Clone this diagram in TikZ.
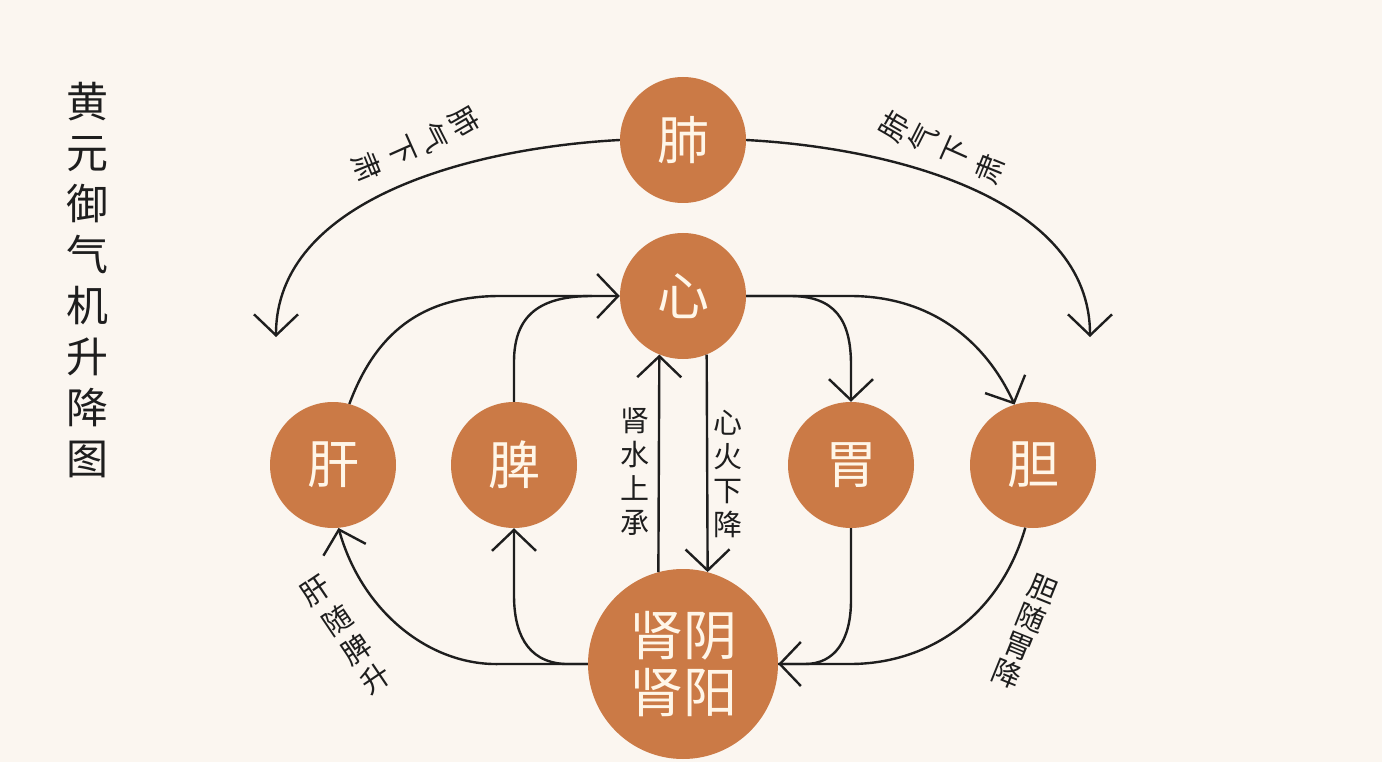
\documentclass[tikz,border=0pt]{standalone}
\usepackage{fontspec}
\newfontfamily\cjk{Noto Sans CJK SC}
\usetikzlibrary{arrows.meta}
\definecolor{bg}{HTML}{FBF6F0}
\definecolor{organ}{HTML}{CB7A46}
\definecolor{organtxt}{HTML}{FFF6E8}
\definecolor{ink}{HTML}{1E1E1E}
\begin{document}
\begin{tikzpicture}[x=1pt,y=-1pt,
  organ/.style={circle, fill=organ, minimum size=126pt, inner sep=0pt, text=organtxt,
    font=\cjk\fontsize{52}{52}\selectfont},
  flow/.style={line width=2.4pt, draw=ink},
  tip/.style={-{Straight Barb[length=21pt,width=44pt,line width=2.4pt]}},
  lbl/.style={inner sep=0pt, text=ink, font=\cjk\fontsize{29}{29}\selectfont},
  vlbl/.style={inner sep=0pt, text=ink, align=center, font=\cjk\fontsize{29}{34}\selectfont}]
\fill[bg] (0,0) rectangle (1382,762);
\useasboundingbox (0,0) rectangle (1382,762);

% title
\node[inner sep=0pt, text=ink, align=center, font=\cjk\fontsize{42}{51}\selectfont] (title) at (87,280)
  {黄\\元\\御\\气\\机\\升\\降\\图};

% organs
\node[organ] (fei) at (683,140) {肺};
\node[organ] (xin) at (683,296) {心};
\node[organ] (gan) at (333,465) {肝};
\node[organ] (pi)  at (514,465) {脾};
\node[organ] (wei) at (851,465) {胃};
\node[organ] (dan) at (1033,465) {胆};
\node[organ, minimum size=190pt, align=center, font=\cjk\fontsize{54}{57}\selectfont] (shen) at (683,664) {肾阴\\肾阳};

% free ends
\coordinate (fl) at (276,337);
\coordinate (fr) at (1090,337);
\coordinate (pjoin) at (592,296);

% lung descends
\draw[flow,tip] (fei.west) .. controls (470,148) and (276,200) .. (fl);
\draw[flow,tip] (fei.east) .. controls (896,148) and (1090,200) .. (fr);

% liver & spleen up to heart
\draw[flow,tip] (gan.75) .. controls (375,335) and (420,296) .. (500,296) -- (xin.west);
\draw[flow] (pi.north) -- (514,362) .. controls (514,315) and (540,296) .. (pjoin);

% heart down to stomach & gallbladder
\draw[flow,tip] (xin.east) -- (790,296) .. controls (835,296) and (851,320) .. (851,365) -- (wei.north);
\draw[flow,tip] (xin.east) -- (850,296) .. controls (930,296) and (985,340) .. (dan.107);

% kidney water up / heart fire down
\draw[flow,tip] (shen.105) -- (xin.248);
\draw[flow,tip] (xin.292) -- (shen.75);

% kidney to spleen & liver
\draw[flow,tip] (shen.west) -- (565,664) .. controls (525,662) and (514,630) .. (514,595) -- (pi.south);
\draw[flow,tip] (shen.west) -- (500,664) .. controls (430,666) and (362,612) .. (gan.275);

% stomach & gallbladder to kidney
\draw[flow,tip] (wei.south) -- (851,600) .. controls (851,640) and (835,664) .. (805,664) -- (shen.east);
\draw[flow] (dan.263) .. controls (1000,615) and (930,664) .. (850,664) -- (shen.east);

% labels
\node[lbl, rotate=-60] (l1a) at (464,122) {肺};
\node[lbl, rotate=-63] (l1b) at (434,137) {气};
\node[lbl, rotate=-66] (l1c) at (401,151) {下};
\node[lbl, rotate=-68] (l1d) at (367,167) {肃};

\node[lbl, rotate=60] (l2a) at (894,127) {肺};
\node[lbl, rotate=63] (l2b) at (923,139) {气};
\node[lbl, rotate=66] (l2c) at (956,152) {下};
\node[lbl, rotate=68] (l2d) at (990,169) {肃};

\node[lbl, rotate=34] (l3a) at (316,591) {肝};
\node[lbl, rotate=34] (l3b) at (337,620) {随};
\node[lbl, rotate=34] (l3c) at (356,649) {脾};
\node[lbl, rotate=34] (l3d) at (375,678) {升};

\node[lbl, rotate=-22] (l4a) at (1043,589) {胆};
\node[lbl, rotate=-22] (l4b) at (1031,618) {随};
\node[lbl, rotate=-22] (l4c) at (1019,646) {胃};
\node[lbl, rotate=-22] (l4d) at (1007,674) {降};

\node[vlbl] (shui) at (635,472) {肾\\水\\上\\承};
\node[vlbl] (huo) at (728,474) {心\\火\\下\\降};
\end{tikzpicture}
\end{document}
